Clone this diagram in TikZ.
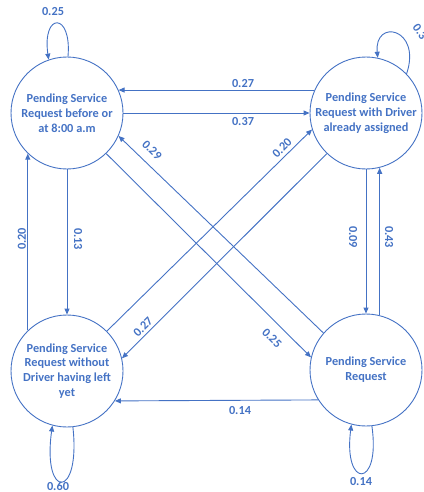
\documentclass[tikz,border=0pt]{standalone}
\usepackage{fontspec}
\setmainfont{Carlito}
\usetikzlibrary{arrows.meta}
\definecolor{stateblue}{RGB}{68,114,196}
\tikzset{
  state/.style={circle, draw=stateblue, line width=0.9pt, minimum size=112pt,
    inner sep=0pt, align=center, text=stateblue,
    font=\fontsize{12.3}{14.8}\selectfont\bfseries},
  trans/.style={draw=stateblue, line width=0.9pt,
    -{Triangle[length=6pt,width=5pt]}},
  prob/.style={text=stateblue, inner sep=1pt,
    font=\fontsize{12.3}{14.8}\selectfont\bfseries}
}
\begin{document}
\begin{tikzpicture}[x=1pt, y=-1pt]
\useasboundingbox (0,0) rectangle (423,492);
\clip (0,0) rectangle (423,492);

% states
\node[state] (A) at (67,113) {Pending Service\\Request before or\\at 8:00 a.m};
\node[state] (B) at (366,113) {Pending Service\\Request with Driver\\already assigned};
\node[state] (C) at (67,371) {Pending Service\\Request without\\Driver having left\\yet};
\node[state] (D) at (366,370) {Pending Service\\Request};

% horizontal transitions
\draw[trans] (B.156) -- (A.24);
\draw[trans] (A.east) -- (B.west);
\draw[trans] (D.212) -- (C.328);

% vertical transitions
\draw[trans] (A.south) -- (C.north);
\draw[trans] (C.134) -- (A.226);
\draw[trans] (B.south) -- (D.north);
\draw[trans] (D.76.6) -- (B.-76.6);

% diagonal transitions
\draw[trans] (A.-46) -- (D.167.5);
\draw[trans] (D.139) -- (A.-24);
\draw[trans] (C.45) -- (B.197.5);
\draw[trans] (B.226) -- (C.13.6);

% self loops
\draw[trans] (A.89) .. controls (72,12) and (42,12) .. (A.109);
\draw[trans] (B.44) .. controls (422,28) and (374,18) .. (B.78);
\draw[trans] (C.-84) .. controls (81,500) and (42,500) .. (C.-105);
\draw[trans] (D.-84) .. controls (381,489) and (343,489) .. (D.-105);

% transition probabilities
\node[prob] (pAA) at (53,12) {0.25};
\node[prob, rotate=-55] (pBB) at (420,32) {0.3};
\node[prob] (pCC) at (58,486) {0.60};
\node[prob] (pDD) at (361,482) {0.14};
\node[prob] (pBA) at (243,84) {0.27};
\node[prob] (pAB) at (243,122) {0.37};
\node[prob] (pDC) at (240,411) {0.14};
\node[prob, rotate=-90] (pAC) at (78,239) {0.13};
\node[prob, rotate=90] (pCA) at (22,239) {0.20};
\node[prob, rotate=-90] (pBD) at (353,237) {0.09};
\node[prob, rotate=-90] (pDB) at (389,237) {0.43};
\node[prob, rotate=-45] (pDA) at (152,150) {0.29};
\node[prob, rotate=-45] (pAD) at (272,338) {0.25};
\node[prob, rotate=45] (pCB) at (282,148) {0.20};
\node[prob, rotate=45] (pBC) at (143,327) {0.27};
\end{tikzpicture}
\end{document}
